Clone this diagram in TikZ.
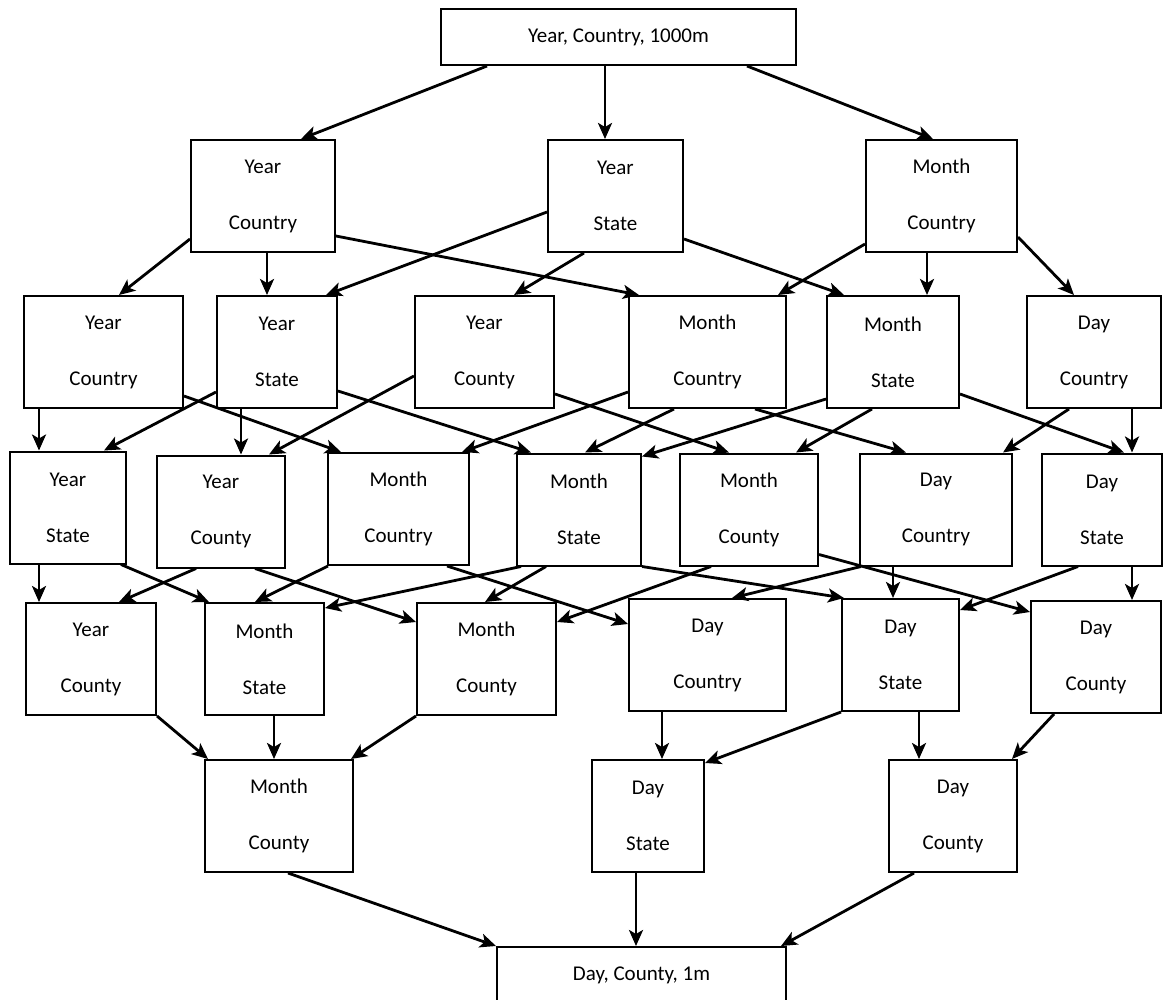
\documentclass[tikz,border=0pt]{standalone}
\usepackage{fontspec}
\setmainfont{Carlito}
\usetikzlibrary{arrows.meta, calc}
\tikzset{>={Stealth[length=16pt,width=14pt,inset=4pt]},
cell/.style={draw, line width=2pt, minimum height=112pt, inner sep=0pt,
  align=center, font=\fontsize{21}{56}\selectfont},
wide/.style={cell, minimum height=56pt},
link/.style={->, line width=2.8pt},
}

\begin{document}
\begin{tikzpicture}[x=1pt, y=-1pt]
\useasboundingbox (0,0) rectangle (1173,999);

    % top and bottom of the lattice
    \node[wide, minimum width=355pt] (top) at (618.5,37) {Year, Country, 1000m};
    \node[wide, minimum width=289pt] (bot) at (641.5,975) {Day, County, 1m};

    % level 1
    \node[cell, minimum width=144pt] (l1a) at (263,196) {Year\\Country};
    \node[cell, minimum width=135pt] (l1b) at (615.5,196) {Year\\State};
    \node[cell, minimum width=151pt] (l1c) at (941.5,196) {Month\\Country};

    % level 2
    \node[cell, minimum width=159pt] (l2a) at (103.5,352) {Year\\Country};
    \node[cell, minimum width=120pt] (l2b) at (277,352) {Year\\State};
    \node[cell, minimum width=139pt] (l2c) at (484.5,352) {Year\\County};
    \node[cell, minimum width=157pt] (l2d) at (707.5,352) {Month\\Country};
    \node[cell, minimum width=132pt] (l2e) at (893,352) {Month\\State};
    \node[cell, minimum width=134pt] (l2f) at (1094,352) {Day\\Country};

    % level 3
    \node[cell, minimum width=116pt] (l3a) at (68,507.5) {Year\\State};
    \node[cell, minimum width=128pt] (l3b) at (221,511.5) {Year\\County};
    \node[cell, minimum width=141pt] (l3c) at (398.5,509) {Month\\Country};
    \node[cell, minimum width=124pt] (l3d) at (579,509.5) {Month\\State};
    \node[cell, minimum width=138pt] (l3e) at (749,509.5) {Month\\County};
    \node[cell, minimum width=152pt] (l3f) at (936,509.5) {Day\\Country};
    \node[cell, minimum width=120pt] (l3g) at (1102,509.5) {Day\\State};

    % level 4
    \node[cell, minimum width=130pt] (l4a) at (91,659) {Year\\County};
    \node[cell, minimum width=119pt] (l4b) at (264.5,659) {Month\\State};
    \node[cell, minimum width=139pt] (l4c) at (486.5,659) {Month\\County};
    \node[cell, minimum width=157pt] (l4d) at (707.5,655) {Day\\Country};
    \node[cell, minimum width=117pt] (l4e) at (900.5,655) {Day\\State};
    \node[cell, minimum width=130pt] (l4f) at (1096,657) {Day\\County};

    % level 5
    \node[cell, minimum width=148pt] (l5a) at (279,816) {Month\\County};
    \node[cell, minimum width=112pt] (l5b) at (648,816) {Day\\State};
    \node[cell, minimum width=128pt] (l5c) at (953,816) {Day\\County};

    % top -> level 1
    \draw[link] ($(top.south west)+(47,0)$) -- ($(l1a.north west)+(111,0)$);
    \draw[link] ($(top.south west)+(165,0)$) -- ($(l1b.north west)+(58,0)$);
    \draw[link] ($(top.south west)+(307,0)$) -- ($(l1c.north west)+(68,0)$);

    % level 1 -> level 2
    \draw[link] ($(l1a.north west)+(0,100)$) -- ($(l2a.north west)+(96,0)$);
    \draw[link] ($(l1a.south west)+(77,0)$) -- ($(l2b.north west)+(51,0)$);
    \draw[link] ($(l1a.north east)+(0,97)$) -- ($(l2d.north west)+(11,0)$);
    \draw[link] ($(l1b.north west)+(0,73)$) -- ($(l2b.north west)+(110,0)$);
    \draw[link] ($(l1b.south west)+(37,0)$) -- ($(l2c.north west)+(100,0)$);
    \draw[link] ($(l1b.north east)+(0,100)$) -- ($(l2e.north west)+(18,0)$);
    \draw[link] ($(l1c.north west)+(0,105)$) -- ($(l2d.north west)+(150,0)$);
    \draw[link] ($(l1c.south west)+(62,0)$) -- ($(l2e.north west)+(101,0)$);
    \draw[link] ($(l1c.north east)+(0,98)$) -- ($(l2f.north west)+(48,0)$);

    % level 2 -> level 3
    \draw[link] ($(l2a.south west)+(16,0)$) -- ($(l3a.north west)+(30,0)$);
    \draw[link] ($(l2a.north east)+(0,101)$) -- ($(l3c.north west)+(14,0)$);
    \draw[link] ($(l2b.north west)+(0,97)$) -- ($(l3a.north west)+(95,0)$);
    \draw[link] ($(l2b.south west)+(25,0)$) -- ($(l3b.north west)+(85,0)$);
    \draw[link] ($(l2b.north east)+(0,96)$) -- ($(l3d.north west)+(15,0)$);
    \draw[link] ($(l2c.north west)+(0,81)$) -- ($(l3b.north west)+(113,0)$);
    \draw[link] ($(l2c.north east)+(0,99)$) -- ($(l3e.north west)+(50,0)$);
    \draw[link] ($(l2d.north west)+(0,97)$) -- ($(l3c.north west)+(135,0)$);
    \draw[link] ($(l2d.south west)+(46,0)$) -- ($(l3d.north west)+(69,0)$);
    \draw[link] ($(l2d.south west)+(127,0)$) -- ($(l3f.north west)+(47,0)$);
    \draw[link] ($(l2e.north west)+(0,104)$) -- ($(l3d.north east)+(0,4)$);
    \draw[link] ($(l2e.south west)+(46,0)$) -- ($(l3e.north west)+(117,0)$);
    \draw[link] ($(l2e.north east)+(0,99)$) -- ($(l3g.north west)+(83,0)$);
    \draw[link] ($(l2f.south west)+(43,0)$) -- ($(l3f.north west)+(144,0)$);
    \draw[link] ($(l2f.south west)+(106,0)$) -- ($(l3g.north west)+(91,0)$);

    % level 3 -> level 4
    \draw[link] ($(l3a.south west)+(30,0)$) -- ($(l4a.north west)+(14,0)$);
    \draw[link] ($(l3a.south west)+(112,0)$) -- ($(l4b.north west)+(5,0)$);
    \draw[link] ($(l3b.south west)+(40,0)$) -- ($(l4a.north west)+(94,0)$);
    \draw[link] ($(l3b.south west)+(99,0)$) -- ($(l4c.north west)+(0,20)$);
    \draw[link] ($(l3c.south west)+(1,0)$) -- ($(l4b.north west)+(51,0)$);
    \draw[link] ($(l3c.south west)+(120,0)$) -- ($(l4d.north west)+(0,26)$);
    \draw[link] ($(l3d.south west)+(5,0)$) -- ($(l4b.north east)+(0,6)$);
    \draw[link] ($(l3d.south west)+(30,0)$) -- ($(l4c.north west)+(69,0)$);
    \draw[link] (l3d.south east) -- ($(l4e.north west)+(3,0)$);
    \draw[link] ($(l3e.south west)+(32,0)$) -- ($(l4c.north east)+(0,20)$);
    \draw[link] ($(l3e.north east)+(0,102)$) -- ($(l4f.north west)+(0,12)$);
    \draw[link] ($(l3f.south west)+(2,0)$) -- ($(l4d.north west)+(104,0)$);
    \draw[link] ($(l3f.south west)+(34,0)$) -- ($(l4e.north west)+(52,0)$);
    \draw[link] ($(l3g.south west)+(37,0)$) -- ($(l4e.north east)+(0,12)$);
    \draw[link] ($(l3g.south west)+(91,0)$) -- ($(l4f.north west)+(102,0)$);

    % level 4 -> level 5
    \draw[link] (l4a.south east) -- ($(l5a.north west)+(4,0)$);
    \draw[link] ($(l4b.south west)+(70,0)$) -- ($(l5a.north west)+(70,0)$);
    \draw[link] (l4c.south west) -- ($(l5a.north east)+(-3,0)$);
    \draw[link] ($(l4d.south west)+(34,0)$) -- ($(l5b.north west)+(71,0)$);
    \draw[link] (l4e.south west) -- ($(l5b.north east)+(0,4)$);
    \draw[link] ($(l4e.south west)+(78,0)$) -- ($(l5c.north west)+(31,0)$);
    \draw[link] ($(l4f.south west)+(24,0)$) -- ($(l5c.north east)+(-6,0)$);

    % level 5 -> bottom
    \draw[link] ($(l5a.south west)+(84,0)$) -- (bot.north west);
    \draw[link] ($(l5b.south west)+(45,0)$) -- ($(bot.north west)+(140,0)$);
    \draw[link] ($(l5c.south west)+(26,0)$) -- ($(bot.north east)+(-6,0)$);
\end{tikzpicture}
\end{document}
